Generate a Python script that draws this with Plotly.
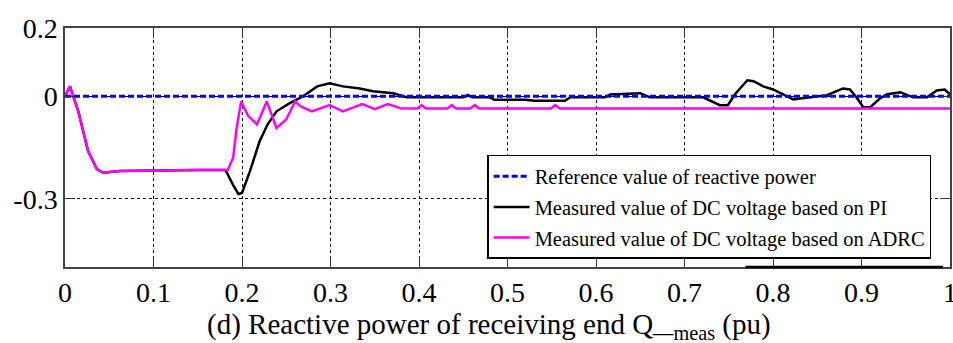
import plotly.graph_objects as go

# Reference value of reactive power
ref_x = [0.0, 1.0]
ref_y = [0.0, 0.0]

# Measured value based on ADRC (magenta)
adrc_x = [0.0, 0.0056, 0.015, 0.026, 0.036, 0.043, 0.062, 0.10, 0.15, 0.184, 0.19, 0.194, 0.199,
          0.207, 0.217, 0.228, 0.239, 0.25, 0.26, 0.266, 0.279, 0.299, 0.314, 0.336, 0.35, 0.365,
          0.379, 0.398, 0.403, 0.408, 0.432, 0.437, 0.442, 0.458, 0.463, 0.468, 0.549, 0.554,
          0.559, 0.70, 0.85, 1.0]
adrc_y = [0.0, 0.029, -0.044, -0.16, -0.213, -0.224, -0.219, -0.217, -0.216, -0.216, -0.18, -0.093,
          -0.015, -0.058, -0.082, -0.015, -0.093, -0.068, -0.015, -0.029, -0.044, -0.026, -0.044,
          -0.023, -0.038, -0.023, -0.035, -0.036, -0.026, -0.036, -0.036, -0.026, -0.036, -0.036,
          -0.026, -0.036, -0.036, -0.026, -0.036, -0.036, -0.036, -0.036]

# Measured value based on PI (black)
pi_x = [0.0, 0.0056, 0.015, 0.026, 0.036, 0.043, 0.062, 0.10, 0.15, 0.181, 0.183, 0.19, 0.196, 0.2,
        0.209, 0.22, 0.229, 0.239, 0.254, 0.269, 0.285, 0.299, 0.314, 0.333, 0.348, 0.371, 0.386,
        0.45, 0.455, 0.46, 0.465, 0.48, 0.485, 0.52, 0.53, 0.565, 0.571, 0.61, 0.616, 0.65, 0.661,
        0.721, 0.74, 0.749, 0.757, 0.771, 0.778, 0.789, 0.80, 0.811, 0.823, 0.833, 0.845, 0.861,
        0.879, 0.887, 0.895, 0.902, 0.91, 0.921, 0.929, 0.944, 0.958, 0.974, 0.985, 0.994, 1.0]
pi_y = [0.0, 0.029, -0.044, -0.16, -0.213, -0.224, -0.219, -0.217, -0.216, -0.216, -0.224, -0.26,
        -0.286, -0.283, -0.219, -0.131, -0.082, -0.044, -0.02, 0.0, 0.029, 0.038, 0.029, 0.023,
        0.015, 0.009, -0.003, -0.003, 0.004, -0.003, -0.003, -0.003, -0.01, -0.01, -0.013, -0.013,
        -0.003, -0.003, 0.005, 0.009, -0.003, -0.003, -0.026, -0.026, 0.006, 0.047, 0.044, 0.029,
        0.02, 0.006, -0.009, -0.006, -0.003, 0.003, 0.023, 0.02, -0.006, -0.032, -0.032, -0.006,
        0.006, 0.012, -0.003, -0.003, 0.017, 0.02, 0.006]

x_ticks = [0, 0.1, 0.2, 0.3, 0.4, 0.5, 0.6, 0.7, 0.8, 0.9, 1]
x_tick_text = ["0", "0.1", "0.2", "0.3", "0.4", "0.5", "0.6", "0.7", "0.8", "0.9", "1"]
y_ticks = [-0.3, 0, 0.2]
y_tick_text = ["-0.3", "0", "0.2"]

series_names = ["Reference value of reactive power",
                "Measured value of DC voltage based on PI",
                "Measured value of DC voltage based on ADRC"]
x_title = "(d) Reactive power of receiving end Q<sub>—meas</sub> (pu)"

FONT = "Liberation Serif"

fig = go.Figure()
fig.add_trace(go.Scatter(x=pi_x, y=pi_y, mode="lines", name=series_names[1],
                         legendgroup="b", legendrank=2,
                         line=dict(color="black", width=2.5)))
fig.add_trace(go.Scatter(x=adrc_x, y=adrc_y, mode="lines", name=series_names[2],
                         legendgroup="c", legendrank=3,
                         line=dict(color="#ff00ff", width=2.5)))
fig.add_trace(go.Scatter(x=ref_x, y=ref_y, mode="lines", name=series_names[0],
                         legendgroup="a", legendrank=1,
                         line=dict(color="#0000ff", width=3, dash="6px,3px")))

fig.update_layout(
    width=953, height=343,
    margin=dict(l=65, r=3, t=28, b=76),
    paper_bgcolor="white", plot_bgcolor="white",
    font=dict(family=FONT, color="black"),
    showlegend=True,
    legend=dict(x=0.477, y=0.469, xanchor="left", yanchor="top",
                bgcolor="white", bordercolor="black", borderwidth=1.5,
                font=dict(family=FONT, size=20.5, color="black"),
                traceorder="grouped", tracegroupgap=1, itemwidth=36),
    shapes=[dict(type="line", xref="paper", yref="paper", x0=0.769, x1=0.992, y0=0, y1=0,
                 line=dict(color="black", width=2.5), layer="above")],
    annotations=[dict(text=x_title, xref="paper", yref="paper", x=0.479, y=-0.245,
                      xanchor="center", yanchor="middle", showarrow=False,
                      font=dict(family=FONT, size=29, color="black"))],
)
fig.update_xaxes(range=[0, 1], tickvals=x_ticks, ticktext=x_tick_text, automargin=False,
                 ticklabeloverflow="allow",
                 showgrid=True, gridcolor="black", griddash="3px,3px", gridwidth=1,
                 showline=True, linecolor="#444", linewidth=1.5, mirror="ticks",
                 ticks="inside", ticklen=10, tickcolor="#333",
                 tickfont=dict(size=28, family=FONT), zeroline=False)
fig.update_yaxes(range=[-0.5, 0.2], tickvals=y_ticks, ticktext=y_tick_text, automargin=False,
                 showgrid=True, gridcolor="black", griddash="3px,3px", gridwidth=1,
                 showline=True, linecolor="#444", linewidth=1.5, mirror="ticks",
                 ticks="inside", ticklen=10, tickcolor="#333",
                 tickfont=dict(size=28, family=FONT), zeroline=False)

fig.write_html("out.html", config={"displayModeBar": False},
               post_script="document.body.style.margin='0';document.body.style.overflow='hidden';")
